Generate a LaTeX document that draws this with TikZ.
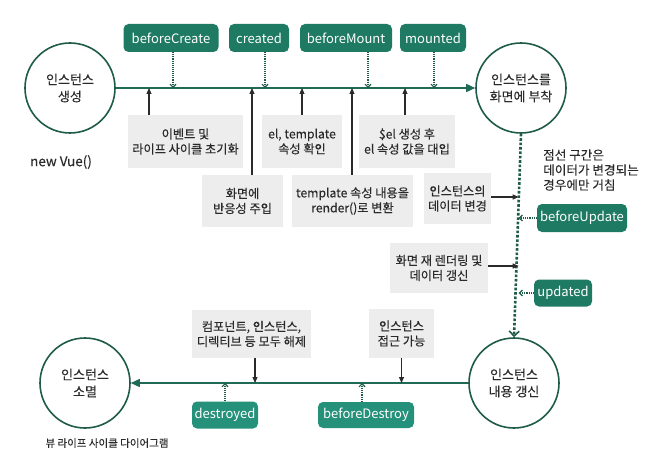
\documentclass[tikz,border=0pt]{standalone}
\usepackage{fontspec}
\setmainfont{Noto Sans CJK KR}[FakeBold=0.2]
\newfontfamily\hookfont{Noto Sans CJK KR}
\usetikzlibrary{arrows.meta}
\definecolor{hook}{HTML}{1F7A63}
\definecolor{hookb}{HTML}{25917A}
\definecolor{ring}{HTML}{1E5B49}
\definecolor{flow}{HTML}{1F6A55}
\definecolor{note}{HTML}{EDEDED}
\definecolor{ink}{HTML}{2A2A2A}
\begin{document}
\begin{tikzpicture}[x=1pt,y=-1pt,
  every node/.style={inner sep=0pt},
  hookbox/.style={fill=hook, rounded corners=5pt, text=white, font=\hookfont\fontsize{13}{15}\selectfont, minimum height=28pt},
  hookboxb/.style={hookbox, fill=hookb},
  notebox/.style={fill=note, text=ink, font=\fontsize{12.2}{15}\selectfont, align=center},
  stage/.style={circle, draw=ring, line width=1.6pt, minimum size=90pt, text=ink, align=center, font=\fontsize{13}{17}\selectfont},
  flowline/.style={draw=flow, line width=1.4pt},
  flowarrow/.style={flowline, -{Triangle[length=9pt,width=8pt]}},
  hookarrow/.style={draw=ring, line width=1.1pt, densely dotted, -{Straight Barb[length=3pt,width=6pt]}},
  notearrow/.style={draw=ink, line width=1.1pt, -{Triangle[length=6pt,width=5pt]}},
  dotline/.style={draw=ring, line width=2.6pt, dash pattern=on 2.6pt off 1.8pt, -{Straight Barb[length=5pt,width=10pt,line width=1.6pt]}},
  plain/.style={text=ink}
]
\useasboundingbox (0,0) rectangle (650,473);

% stages
\node[stage] (c1) at (70,88) {인스턴스\\생성};
\node[stage] (c2) at (521,88) {인스턴스를\\화면에 부착};
\node[stage] (c3) at (85,383) {인스턴스\\소멸};
\node[stage] (c4) at (514,383) {인스턴스\\내용 갱신};

\node[plain, font=\fontsize{13.5}{15}\selectfont] (nv) at (61,162) {new Vue()};
\node[plain, font=\fontsize{10.5}{12}\selectfont] (cap) at (107,443) {뷰 라이프 사이클 다이어그램};

% main lines
\draw[flowarrow] (c1.east) -- (c2.west);
\draw[flowarrow] (c4.west) -- (c3.east);
\draw[dotline] (c2.south) -- coordinate[pos=0.33] (j1) (c4.north);

% top hooks
\node[hookbox, minimum width=95pt] (bc) at (171,38) {beforeCreate};
\node[hookbox, minimum width=60pt] (cr) at (259,38) {created};
\node[hookbox, minimum width=92pt] (bm) at (346,38) {beforeMount};
\node[hookbox, minimum width=66pt] (mo) at (433,38) {mounted};

\draw[hookarrow] ([xshift=2pt]bc.south) -- ([xshift=2pt]bc.south |- c1.east);
\draw[hookarrow] ([xshift=6pt]cr.south) -- ([xshift=6pt]cr.south |- c1.east);
\draw[hookarrow] ([xshift=22pt]bm.south) -- ([xshift=22pt]bm.south |- c1.east);
\draw[hookarrow] ([xshift=1pt]mo.south) -- ([xshift=1pt]mo.south |- c1.east);

% top notes
\node[notebox, minimum width=115pt, minimum height=53pt] (n1) at (185.5,141.5) {이벤트 및\\라이프 사이클 초기화};
\node[notebox, minimum width=80pt, minimum height=53pt] (n2) at (302,141.5) {el, template\\속성 확인};
\node[notebox, minimum width=96pt, minimum height=53pt] (n3) at (407,141.5) {\$el 생성 후\\el 속성 값을 대입};
\node[notebox, minimum width=81pt, minimum height=52pt] (n4) at (242.5,201) {화면에\\반응성 주입};
\node[notebox, minimum width=121pt, minimum height=52pt] (n5) at (352.5,201) {template 속성 내용을\\render()로 변환};

\draw[notearrow] ([xshift=-36.5pt]n1.north) -- ([xshift=-36.5pt]n1.north |- c1.east);
\draw[notearrow] ([xshift=0pt]n2.north) -- ([xshift=0pt]n2.north |- c1.east);
\draw[notearrow] ([xshift=-2pt]n3.north) -- ([xshift=-2pt]n3.north |- c1.east);
\draw[notearrow] ([xshift=9.5pt]n4.north) -- ([xshift=9.5pt]n4.north |- c1.east);
\draw[notearrow] ([xshift=-0.5pt]n5.north) -- ([xshift=-0.5pt]n5.north |- c1.east);

% update side
\node[plain, anchor=west, align=left, font=\fontsize{12.6}{15}\selectfont] (dn) at (543,170) {점선 구간은\\데이터가 변경되는\\경우에만 거침};
\node[notebox, minimum width=67pt, minimum height=51pt] (n6) at (457.5,198.5) {인스턴스의\\데이터 변경};
\node[hookbox, minimum width=90pt] (bu) at (582,218) {beforeUpdate};
\node[notebox, minimum width=98pt, minimum height=50pt] (n7) at (439,268) {화면 재 렌더링 및\\데이터 갱신};
\node[hookbox, minimum width=58pt, minimum height=27pt] (up) at (563,293) {updated};

\draw[notearrow] ([yshift=1.5pt]n6.east) -- ([yshift=1.5pt]n6.east -| j1);
\draw[hookarrow] (bu.west) -- (bu.west -| j1);
\draw[notearrow] ([yshift=2pt]n7.east) -- ([yshift=2pt]n7.east -| j1);
\draw[hookarrow] (up.west) -- (up.west -| j1);

% bottom notes and hooks
\node[notebox, minimum width=65pt, minimum height=49pt] (n8) at (401.5,333.5) {인스턴스\\접근 가능};
\node[notebox, minimum width=119pt, minimum height=48pt] (n9) at (251.5,334) {컴포넌트, 인스턴스,\\디렉티브 등 모두 해제};
\draw[notearrow] (n8.south) -- (n8.south |- c4.west);
\draw[notearrow] ([xshift=3.5pt]n9.south) -- ([xshift=3.5pt]n9.south |- c4.west);

\node[hookboxb, minimum width=66pt, minimum height=27pt] (de) at (225,415) {destroyed};
\node[hookboxb, minimum width=96pt, minimum height=26pt] (bd) at (366,415) {beforeDestroy};
\draw[hookarrow] (de.north) -- (de.north |- c4.west);
\draw[hookarrow] ([xshift=-4pt]bd.north) -- ([xshift=-4pt]bd.north |- c4.west);
\end{tikzpicture}
\end{document}
